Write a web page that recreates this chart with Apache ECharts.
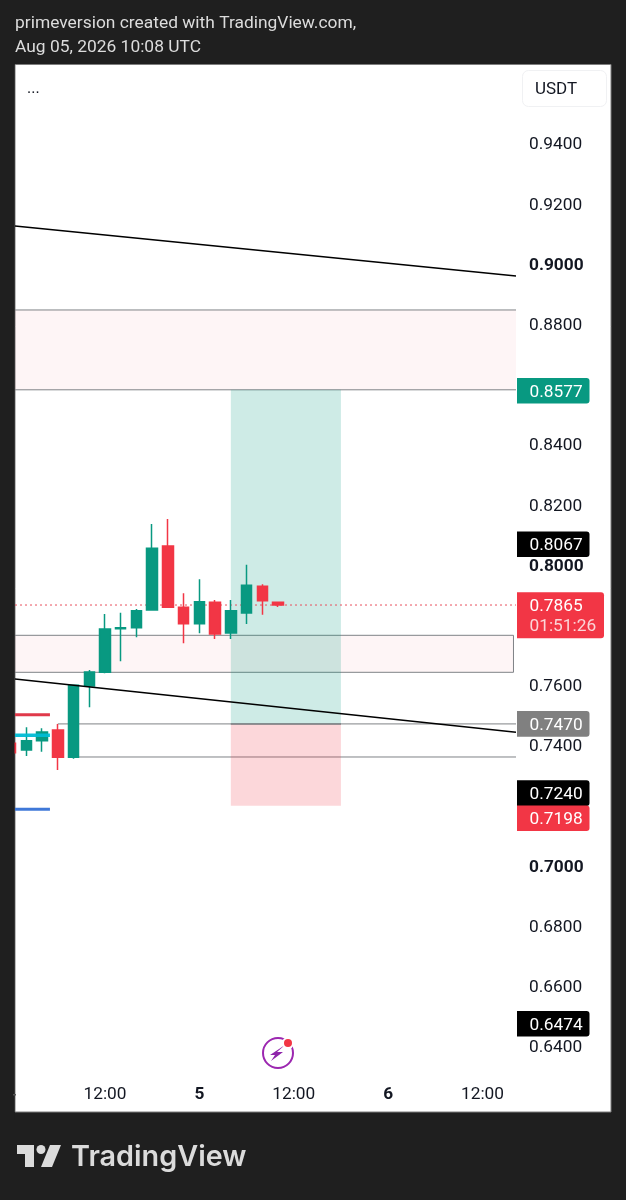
<!DOCTYPE html>
<html>
<head>
<meta charset="utf-8">
<style>html,body{margin:0;padding:0;background:#1f1f1f}#c{width:626px;height:1200px}</style>
<script src="https://cdn.jsdelivr.net/npm/echarts@6/dist/echarts.min.js"></script>
</head>
<body>
<div id="c"></div>
<script>
// Hours since Aug 4 00:00 UTC, 2h candles
const candleHours = [0,2,4,6,8,10,12,14,16,18,20,22,24,26,28,30,32,34];
const opens  = [.74055,.73834,.74144,.74498,.73590,.75960,.76414,.77865,.77898,.78485,.80611,.78574,.78031,.78740,.77721,.78386,.79271,.78740];
const closes = [.73745,.74144,.74432,.73590,.75982,.76425,.77854,.77898,.78463,.80534,.78574,.78031,.78762,.77688,.78463,.79305,.78795,.78651];
const lows   = [.73745,.73635,.73779,.73170,.73546,.75252,.76381,.76780,.77577,.78485,.78574,.77378,.77710,.77522,.77522,.78020,.78330,.78585];
const highs  = [.74055,.74587,.74554,.74698,.75982,.76492,.78352,.78396,.78518,.81342,.81508,.79039,.79504,.78817,.78817,.79991,.79337,.78762];

const priceTicks = [.94,.92,.90,.88,.84,.82,.80,.76,.74,.70,.68,.66,.64];
const boldTicks = [.90,.80,.70];
const timeTicks = [12,24,36,48,60];
const timeLabels = ['12:00','5','12:00','6','12:00'];
const boldTimeLabels = ['5','6'];

const xMin = 0.557, xMax = 64.26, yMin = 0.63003, yMax = 0.96591;

const trendUpper = [[xMin,.91243],[xMax,.89581]];
const trendLower = [[xMin,.76193],[xMax,.74422]];
const levelEntry = [[6,.7470],[xMax,.7470]];
const levelBase  = [[8,.73601],[xMax,.73601]];
const longEntry  = [[28,.7470],[42,.7470]];
const currentPrice = [[xMin,.7865],[xMax,.7865]];
const stubRed  = [[xMin,.75007],[5,.75007]];
const stubCyan = [[xMin,.74322],[5,.74322]];
const stubBlue = [[xMin,.71864],[5,.71864]];

// [x0, x1, top price, bottom price]
const zoneUpper = [[-2,70,.88452,.8580]];
const zoneLower = [[-2,63.94,.77644,.76415]];
const longProfit = [[28,42,.8580,.7470]];
const longLoss = [[28,42,.7470,.7198]];

const tagPrices = [.8577,.8067,.7865,.7470,.7240,.7198,.6474];
const tagTexts  = ['0.8577','0.8067','0.7865','0.7470','0.7240','0.7198','0.6474'];
const tagSubTexts = ['','','01:51:26','','','',''];
const tagColors = ['#089981','#000000','#f23645','#808080','#000000','#f23645','#000000'];
const tagNudges = [0,0,0,0,0,12.5,0];

const GREY = '#7f8286', RED = '#f23645', GREEN = '#089981';
const FONT = 'Roboto, sans-serif';

function rectSeries(name, data, style, z){
  return {
    name, type:'custom', data, z, clip:true, silent:true,
    encode:{x:[0,1],y:[2,3]},
    renderItem(p, api){
      const a = api.coord([api.value(0), api.value(2)]);
      const b = api.coord([api.value(1), api.value(3)]);
      return {type:'rect', shape:{x:a[0], y:a[1], width:b[0]-a[0], height:b[1]-a[1]}, style};
    }
  };
}
function lineSeries(name, data, color, width, z, type){
  return {name, type:'line', data, z, showSymbol:false, symbol:'none', silent:true, animation:false,
    lineStyle:{color, width, type:type||'solid', cap:'butt'}};
}

const tagSeries = {
  name:'price tags', type:'custom', z:20, clip:false, silent:true,
  data: tagPrices.map((v,i)=>[xMax,v,i]),
  encode:{x:0,y:1},
  renderItem(p, api){
    const i = api.value(2);
    const c = api.coord([api.value(0), api.value(1)]);
    const y = c[1] + tagNudges[i], x = c[0] + 1;
    const sub = tagSubTexts[i];
    const children = [{
      type:'rect',
      shape:{x, y:y-12.8, width: sub?87:72.5, height: sub?46:25.6, r:[0,3,3,0]},
      style:{fill:tagColors[i]}
    },{
      type:'text',
      style:{text:tagTexts[i], x:x+12.5, y:y+1.5, fill:'#ffffff', font:'17.3px '+FONT, textVerticalAlign:'middle', textAlign:'left'}
    }];
    if(sub) children.push({type:'text',
      style:{text:sub, x:x+12.5, y:y+22, fill:'#fbd5d8', font:'17.3px '+FONT, textVerticalAlign:'middle', textAlign:'left'}});
    return {type:'group', children};
  }
};

const option = {
  animation:false,
  backgroundColor:'#1f1f1f',
  grid:{left:15, right:110, top:65, height:1011, containLabel:false},
  xAxis:{type:'value', min:xMin, max:xMax, splitLine:{show:false}, axisLine:{show:false}, axisTick:{show:false},
    axisLabel:{customValues:timeTicks, margin:10, color:'#131722', fontFamily:FONT, fontSize:17.3,
      formatter:(v)=>{const t=timeLabels[timeTicks.indexOf(v)]; return boldTimeLabels.includes(t)?'{b|'+t+'}':t;},
      rich:{b:{fontWeight:'bold', fontSize:17.3, fontFamily:FONT, color:'#131722'}}}},
  yAxis:{type:'value', position:'right', min:yMin, max:yMax, scale:true, splitLine:{show:false}, axisLine:{show:false}, axisTick:{show:false},
    axisLabel:{customValues:priceTicks, margin:13, color:'#131722', fontFamily:FONT, fontSize:17.3, align:'left', padding:[4,0,0,0],
      formatter:(v)=>{const s=v.toFixed(4); return boldTicks.includes(v)?'{b|'+s+'}':s;},
      rich:{b:{fontWeight:'bold', fontSize:17.3, fontFamily:FONT, color:'#131722'}}}},
  graphic:[
    {type:'rect', z:-10, silent:true, shape:{x:15,y:64.5,width:596,height:1047.5}, style:{fill:'#ffffff', stroke:'#7d7d7d', lineWidth:1}},
    {type:'rect', z:30, silent:true, shape:{x:0,y:60,width:14.5,height:1060}, style:{fill:'#1f1f1f'}},
    {type:'rect', z:-9, silent:true, shape:{x:522.5,y:70.5,width:84,height:36,r:6}, style:{fill:'#ffffff', stroke:'#f0f1f3', lineWidth:1}},
    {type:'text', z:5, style:{text:'USDT', x:535, y:89.5, fill:'#131722', font:'17px '+FONT, textVerticalAlign:'middle'}},
    {type:'text', z:5, style:{text:'...', x:27, y:89, fill:'#131722', font:'16px '+FONT, textVerticalAlign:'middle'}},
    {type:'text', z:5, style:{text:'primeversion created with TradingView.com,', x:15, y:24, fill:'#dcdcdc', font:'17.4px '+FONT, textVerticalAlign:'middle'}},
    {type:'text', z:5, style:{text:'Aug 05, 2026 10:08 UTC', x:15, y:48, fill:'#dcdcdc', font:'17.4px '+FONT, textVerticalAlign:'middle'}},
    {type:'rect', z:31, silent:true, shape:{x:13,y:1094,width:3,height:1.5}, style:{fill:'#555'}},
    // Lightning badge
    {type:'circle', z:5, silent:true, shape:{cx:278,cy:1053,r:15}, style:{fill:'none', stroke:'#9c27b0', lineWidth:2}},
    {type:'polygon', z:5, silent:true, shape:{points:[[285,1045],[277,1052],[283,1052],[271,1061],[275,1055],[270,1055]]}, style:{fill:'#8e24aa'}},
    {type:'circle', z:6, silent:true, shape:{cx:288,cy:1043,r:6}, style:{fill:'#ffffff'}},
    {type:'circle', z:7, silent:true, shape:{cx:288,cy:1043,r:4}, style:{fill:RED}},
    // Logo
    {type:'polygon', z:5, silent:true, shape:{points:[[17,1145],[34,1145],[34,1167],[25,1167],[25,1154],[17,1154]]}, style:{fill:'#dbdbdb'}},
    {type:'circle', z:5, silent:true, shape:{cx:41,cy:1149.5,r:4.5}, style:{fill:'#dbdbdb'}},
    {type:'polygon', z:5, silent:true, shape:{points:[[50,1145],[61,1145],[52,1167],[41,1167]]}, style:{fill:'#dbdbdb'}},
    {type:'text', z:5, style:{text:'TradingView', x:71, y:1157, fill:'#dbdbdb', font:'600 28.8px Inter, sans-serif', textVerticalAlign:'middle'}}
  ],
  series:[
    rectSeries('upper zone', zoneUpper, {fill:'rgba(242,54,69,0.05)', stroke:GREY, lineWidth:1}, 1),
    rectSeries('lower zone', zoneLower, {fill:'rgba(242,54,69,0.05)', stroke:GREY, lineWidth:1}, 1),
    lineSeries('entry level', levelEntry, GREY, 1, 2),
    lineSeries('base level', levelBase, GREY, 1, 2),
    rectSeries('long profit', longProfit, {fill:'rgba(8,153,129,0.2)'}, 3),
    rectSeries('long loss', longLoss, {fill:'rgba(242,54,69,0.2)'}, 3),
    lineSeries('long entry', longEntry, GREY, 1.5, 4),
    lineSeries('current price', currentPrice, '#e8505e', 1, 5, [2,3]),
    lineSeries('trend upper', trendUpper, '#000000', 1.5, 6),
    lineSeries('trend lower', trendLower, '#000000', 1.5, 9),
    {name:'price', type:'candlestick', z:8, silent:true, barWidth:11,
      data:candleHours.map((h,i)=>[h,opens[i],closes[i],lows[i],highs[i]]),
      encode:{x:0,y:[1,2,3,4]},
      itemStyle:{color:GREEN,color0:RED,borderColor:GREEN,borderColor0:RED,borderWidth:1.5}},
    lineSeries('stub red', stubRed, '#e0394a', 3, 10),
    lineSeries('stub cyan', stubCyan, 'rgba(0,188,212,0.95)', 3.5, 10),
    lineSeries('stub blue', stubBlue, '#3f78d8', 3, 10),
    tagSeries
  ]
};
const chart = echarts.init(document.getElementById('c'), null, {renderer:'canvas'});
chart.setOption(option);
</script>
</body>
</html>
